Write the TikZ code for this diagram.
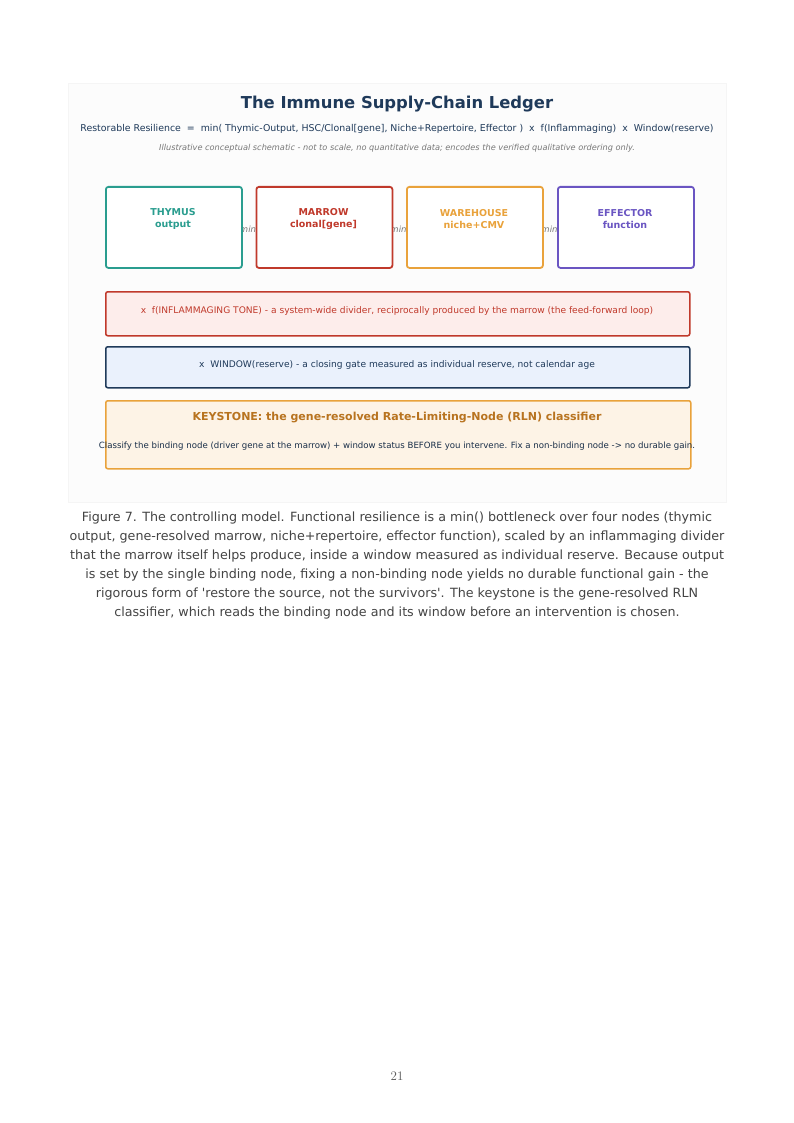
\documentclass[tikz,border=0pt]{standalone}
\usepackage{fontspec}
\newfontfamily\dv{DejaVu Sans}
\usetikzlibrary{positioning}
\definecolor{navy}{HTML}{1F3A5A}
\definecolor{teal}{HTML}{2A9D8F}
\definecolor{mred}{HTML}{C0392B}
\definecolor{morange}{HTML}{E9A23B}
\definecolor{mpurple}{HTML}{6A55C2}
\definecolor{kbrown}{HTML}{B8731F}
\definecolor{pinkbg}{HTML}{FDEDEB}
\definecolor{bluebg}{HTML}{EAF1FC}
\definecolor{orangebg}{HTML}{FDF3E6}
\definecolor{panel}{HTML}{FCFCFC}
\definecolor{capgray}{HTML}{444444}
\definecolor{mingray}{HTML}{777777}
\tikzset{
  nodebox/.style={draw=#1, line width=1.8pt, rounded corners=2.5pt, fill=white, minimum width=136pt, minimum height=81pt, anchor=north west},
  nodetxt/.style={text=#1, font=\dv\bfseries\fontsize{9.5}{11.5}\selectfont, align=center},
  band/.style={line width=1.5pt, rounded corners=2pt, minimum width=584pt, anchor=north west},
  mintxt/.style={text=mingray, font=\dv\itshape\fontsize{8.5}{10}\selectfont},
}
\begin{document}
\begin{tikzpicture}[x=1pt,y=-1pt]
\useasboundingbox (0,0) rectangle (794,1123);
\fill[white] (0,0) rectangle (794,1123);
\node[draw=black!4, fill=panel, minimum width=658pt, minimum height=419pt, anchor=north west, inner sep=0pt] (panel) at (68,83) {};
\node[text=navy, font=\dv\bfseries\fontsize{16.4}{19}\selectfont] (title) at (397,104) {The Immune Supply-Chain Ledger};
\node[text=navy, font=\dv\fontsize{9.4}{11}\selectfont] (formula) at (397,129) {Restorable Resilience \ = \ min( Thymic-Output, HSC/Clonal[gene], Niche+Repertoire, Effector ) \ x \ f(Inflammaging) \ x \ Window(reserve)};
\node[text=mingray, font=\dv\itshape\fontsize{8.2}{9}\selectfont] (note) at (397,148) {Illustrative conceptual schematic - not to scale, no quantitative data; encodes the verified qualitative ordering only.};
% min labels (drawn beneath boxes)
\node[mintxt] (m1) at (248,229.5) {min};
\node[mintxt] (m2) at (398.5,229.5) {min};
\node[mintxt] (m3) at (549.5,229.5) {min};
% four nodes
\node[nodebox=teal] (thy) at (105,186) {};
\node[nodebox=mred] (mar) at (255.5,186) {};
\node[nodebox=morange] (war) at (406,186) {};
\node[nodebox=mpurple] (eff) at (557,186) {};
\node[nodetxt=teal] at (173,219) {THYMUS\\output};
\node[nodetxt=mred] at (323.5,219) {MARROW\\clonal[gene]};
\node[nodetxt=morange] at (474,219) {WAREHOUSE\\niche+CMV};
\node[nodetxt=mpurple] at (625,219) {EFFECTOR\\function};
% bands
\node[band, draw=mred, fill=pinkbg, minimum height=44pt] (infl) at (105,291) {};
\node[text=mred, font=\dv\fontsize{9.1}{10}\selectfont] at (397,310.5) {x \ f(INFLAMMAGING TONE) - a system-wide divider, reciprocally produced by the marrow (the feed-forward loop)};
\node[band, draw=navy, fill=bluebg, minimum height=41pt] (win) at (105,346) {};
\node[text=navy, font=\dv\fontsize{9.1}{10}\selectfont] at (397,364.5) {x \ WINDOW(reserve) - a closing gate measured as individual reserve, not calendar age};
\node[band, draw=morange, fill=orangebg, minimum width=585pt, minimum height=68pt] (key) at (105,400) {};
\node[text=kbrown, font=\dv\bfseries\fontsize{11}{12}\selectfont] at (397,417.5) {KEYSTONE: the gene-resolved Rate-Limiting-Node (RLN) classifier};
\node[text=navy!80!black, font=\dv\fontsize{8.6}{10}\selectfont] at (397,446.5) {Classify the binding node (driver gene at the marrow) + window status BEFORE you intervene. Fix a non-binding node -> no durable gain.};
% caption
\node[text=capgray, font=\dv\fontsize{12.7}{19}\selectfont, align=center, anchor=north] (cap) at (397,508) {Figure 7. The controlling model. Functional resilience is a min() bottleneck over four nodes (thymic\\output, gene-resolved marrow, niche+repertoire, effector function), scaled by an inflammaging divider\\that the marrow itself helps produce, inside a window measured as individual reserve. Because output\\is set by the single binding node, fixing a non-binding node yields no durable functional gain - the\\rigorous form of 'restore the source, not the survivors'. The keystone is the gene-resolved RLN\\classifier, which reads the binding node and its window before an intervention is chosen.};
\node[text=black!65, font=\fontsize{13}{15}\selectfont] (pg) at (397,1076) {21};
\end{tikzpicture}
\end{document}
